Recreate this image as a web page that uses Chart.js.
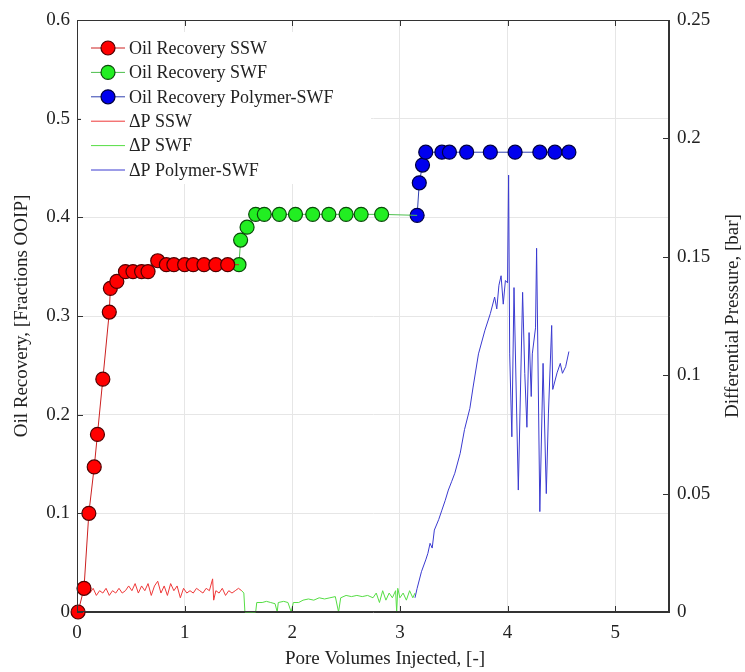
<!DOCTYPE html>
<html>
<head>
<meta charset="utf-8">
<script src="https://cdn.jsdelivr.net/npm/chart.js@4/dist/chart.umd.min.js"></script>
<style>
  html, body { margin: 0; padding: 0; background: #fff; }
  #wrap { width: 745px; height: 672px; }
</style>
</head>
<body>
<div id="wrap"><canvas id="myChart1"></canvas></div>
<script>
// oil recovery (fraction OOIP) vs pore volumes injected
const sswPV  = [0.01, 0.065, 0.11, 0.16, 0.19, 0.24, 0.30, 0.31, 0.37, 0.45, 0.52, 0.60, 0.66, 0.75, 0.83, 0.90, 1.00, 1.08, 1.18, 1.29, 1.40];
const sswRec = [0, 0.024, 0.100, 0.147, 0.180, 0.236, 0.304, 0.328, 0.335, 0.345, 0.345, 0.345, 0.345, 0.356, 0.352, 0.352, 0.352, 0.352, 0.352, 0.352, 0.352];
const swfPV  = [1.505, 1.52, 1.58, 1.66, 1.74, 1.88, 2.03, 2.19, 2.34, 2.50, 2.64, 2.83];
const swfRec = [0.352, 0.377, 0.390, 0.403, 0.403, 0.403, 0.403, 0.403, 0.403, 0.403, 0.403, 0.403];
const polPV  = [3.16, 3.18, 3.21, 3.24, 3.39, 3.46, 3.62, 3.84, 4.07, 4.30, 4.44, 4.57];
const polRec = [0.402, 0.435, 0.453, 0.466, 0.466, 0.466, 0.466, 0.466, 0.466, 0.466, 0.466, 0.466];

// differential pressure (bar)
const dpSswPV = [0.06, 0.09, 0.12, 0.15, 0.18, 0.21, 0.24, 0.27, 0.30, 0.33, 0.36, 0.39, 0.42, 0.45, 0.48, 0.51, 0.54, 0.57, 0.60, 0.63, 0.66, 0.69, 0.72, 0.75, 0.78, 0.81, 0.84, 0.87, 0.90, 0.93, 0.96, 0.99, 1.02, 1.05, 1.08, 1.11, 1.14, 1.17, 1.20, 1.23, 1.26, 1.27, 1.29, 1.32, 1.35, 1.38, 1.41, 1.44, 1.47, 1.50, 1.53];
const dpSsw   = [0.009, 0.011, 0.008, 0.010, 0.007, 0.009, 0.008, 0.010, 0.007, 0.009, 0.008, 0.010, 0.008, 0.009, 0.011, 0.009, 0.012, 0.008, 0.011, 0.009, 0.012, 0.007, 0.011, 0.013, 0.008, 0.011, 0.007, 0.012, 0.009, 0.011, 0.006, 0.010, 0.008, 0.009, 0.008, 0.010, 0.009, 0.008, 0.010, 0.009, 0.014, 0.005, 0.009, 0.008, 0.010, 0.007, 0.009, 0.008, 0.009, 0.010, 0.009];
const dpSwfPV = [1.53, 1.55, 1.56, 1.66, 1.67, 1.72, 1.76, 1.80, 1.84, 1.86, 1.87, 1.92, 1.96, 1.99, 2.01, 2.06, 2.10, 2.15, 2.20, 2.25, 2.30, 2.35, 2.40, 2.43, 2.45, 2.50, 2.55, 2.60, 2.65, 2.70, 2.75, 2.78, 2.81, 2.84, 2.87, 2.90, 2.93, 2.96, 2.97, 2.98, 3.00, 3.03, 3.06, 3.09, 3.12, 3.14];
const dpSwf   = [0.009, 0.008, 0, 0, 0.004, 0.004, 0.0045, 0.004, 0.0035, 0, 0.004, 0.0045, 0.004, 0, 0.004, 0.004, 0.005, 0.0055, 0.005, 0.006, 0.0055, 0.006, 0.0065, 0, 0.006, 0.007, 0.0065, 0.007, 0.0065, 0.007, 0.006, 0.008, 0.004, 0.009, 0.005, 0.008, 0.006, 0.009, 0, 0.010, 0.006, 0.008, 0.005, 0.009, 0.006, 0.008];
const dpPolPV = [3.14, 3.16, 3.20, 3.24, 3.26, 3.28, 3.30, 3.32, 3.36, 3.39, 3.42, 3.45, 3.48, 3.51, 3.56, 3.60, 3.65, 3.68, 3.73, 3.79, 3.84, 3.88, 3.90, 3.92, 3.94, 3.96, 3.98, 4.00, 4.01, 4.02, 4.04, 4.06, 4.10, 4.14, 4.16, 4.18, 4.20, 4.22, 4.23, 4.26, 4.27, 4.30, 4.33, 4.36, 4.38, 4.41, 4.42, 4.46, 4.49, 4.51, 4.54, 4.57];
const dpPol   = [0.006, 0.010, 0.017, 0.022, 0.0248, 0.029, 0.027, 0.0346, 0.039, 0.043, 0.047, 0.0515, 0.055, 0.0586, 0.067, 0.077, 0.086, 0.095, 0.109, 0.119, 0.126, 0.133, 0.128, 0.138, 0.142, 0.130, 0.140, 0.139, 0.1845, 0.109, 0.074, 0.137, 0.0515, 0.135, 0.1008, 0.078, 0.118, 0.091, 0.109, 0.120, 0.1536, 0.0424, 0.105, 0.050, 0.084, 0.121, 0.094, 0.101, 0.105, 0.1008, 0.1036, 0.110];

const xTicks = [0, 1, 2, 3, 4, 5];

const pts = (xs, ys) => xs.map((x, i) => ({ x: x, y: ys[i] }));
const FONT = "'Liberation Serif', 'DejaVu Serif', serif";

// recovery curves run on to the first point of the next stage
const recSsw = pts(sswPV, sswRec).concat([{ x: swfPV[0], y: swfRec[0] }]);
const recSwf = pts(swfPV, swfRec).concat([{ x: polPV[0], y: polRec[0] }]);
const recPol = pts(polPV, polRec);

const markerRadius = (ctx) =>
    ctx.dataset.bridge && ctx.dataIndex === ctx.dataset.data.length - 1 ? 0 : 7;

const datasets = [
    {
        label: "Oil Recovery SSW", data: recSsw, yAxisID: "y", bridge: true,
        borderColor: "#cc2020", backgroundColor: "#ff0000", pointBorderColor: "#500000",
        order: 1,
    },
    {
        label: "Oil Recovery SWF", data: recSwf, yAxisID: "y", bridge: true,
        borderColor: "#4cbf4c", backgroundColor: "#22ee22", pointBorderColor: "#0a4a0a",
        order: 2,
    },
    {
        label: "Oil Recovery Polymer-SWF", data: recPol, yAxisID: "y",
        borderColor: "#3040b0", backgroundColor: "#0000ee", pointBorderColor: "#000040",
        order: 3,
    },
    { label: "\u0394P SSW", data: pts(dpSswPV, dpSsw), yAxisID: "y2", borderColor: "#ee3838", order: 4 },
    { label: "\u0394P SWF", data: pts(dpSwfPV, dpSwf), yAxisID: "y2", borderColor: "#55dd44", order: 5 },
    { label: "\u0394P Polymer-SWF", data: pts(dpPolPV, dpPol), yAxisID: "y2", borderColor: "#3a3ad0", order: 6 },
];

datasets.forEach((d, i) => {
    d.borderWidth = 1;
    d.clip = false;
    if (i < 3) {
        d.pointRadius = markerRadius;
        d.pointHoverRadius = markerRadius;
        d.pointBorderWidth = 1.2;
        d.marker = true;
    } else {
        d.pointRadius = 0;
        d.marker = false;
    }
});

const frame = {
    id: "frame",
    afterDraw(chart) {
        const { ctx, chartArea: a, scales } = chart;
        ctx.save();
        // box and inward ticks
        ctx.strokeStyle = "#333";
        ctx.lineWidth = 1;
        ctx.strokeRect(a.left + 0.5, a.top + 0.5, a.right - a.left - 1, a.bottom - a.top - 1);
        ctx.beginPath();
        xTicks.forEach((v) => {
            const px = Math.round(scales.x.getPixelForValue(v)) + 0.5;
            ctx.moveTo(px, a.bottom); ctx.lineTo(px, a.bottom - 6);
            ctx.moveTo(px, a.top); ctx.lineTo(px, a.top + 6);
        });
        scales.y.ticks.forEach((t) => {
            const py = Math.round(scales.y.getPixelForValue(t.value)) + 0.5;
            ctx.moveTo(a.left, py); ctx.lineTo(a.left + 6, py);
        });
        scales.y2.ticks.forEach((t) => {
            const py = Math.round(scales.y2.getPixelForValue(t.value)) + 0.5;
            ctx.moveTo(a.right, py); ctx.lineTo(a.right - 6, py);
        });
        ctx.stroke();

        // axis titles
        ctx.fillStyle = "#222";
        ctx.font = "19px " + FONT;
        ctx.textAlign = "center";
        ctx.textBaseline = "middle";
        const cy = (a.top + a.bottom) / 2;
        ctx.fillText("Pore Volumes Injected, [-]", (a.left + a.right) / 2 + 12, 659);
        ctx.save();
        ctx.translate(22, cy);
        ctx.rotate(-Math.PI / 2);
        ctx.fillText("Oil Recovery, [Fractions OOIP]", 0, 0);
        ctx.restore();
        ctx.save();
        ctx.translate(733, cy);
        ctx.rotate(-Math.PI / 2);
        ctx.fillText("Differential Pressure, [bar]", 0, 0);
        ctx.restore();

        // legend
        const lx = a.left + 4, ly = a.top + 12;
        ctx.fillStyle = "#fff";
        ctx.fillRect(lx, ly, 290, 152);
        ctx.font = "18px " + FONT;
        ctx.textAlign = "left";
        chart.data.datasets.forEach((d, i) => {
            const y = ly + 16 + i * 24.4;
            ctx.strokeStyle = d.borderColor;
            ctx.lineWidth = 1;
            ctx.beginPath();
            ctx.moveTo(lx + 10, y); ctx.lineTo(lx + 44, y);
            ctx.stroke();
            if (d.marker) {
                ctx.beginPath();
                ctx.arc(lx + 27, y, 7, 0, Math.PI * 2);
                ctx.fillStyle = d.backgroundColor;
                ctx.fill();
                ctx.strokeStyle = d.pointBorderColor;
                ctx.lineWidth = 1.2;
                ctx.stroke();
            }
            ctx.fillStyle = "#222";
            ctx.fillText(d.label, lx + 48, y + 1);
        });
        ctx.restore();
    },
};

const fmt = (v) => String(Number(v.toFixed(2)));

const ctx = document.getElementById("myChart1").getContext("2d");
const myChart = new Chart(ctx, {
    type: "line",
    data: { datasets: datasets },
    options: {
        responsive: true,
        maintainAspectRatio: false,
        animation: false,
        layout: { padding: { top: 20, left: 0, right: 0, bottom: 0 } },
        plugins: {
            legend: { display: false },
            tooltip: { enabled: false },
        },
        scales: {
            x: {
                type: "linear",
                min: 0,
                max: 5.5,
                ticks: {
                    stepSize: 1,
                    padding: 10,
                    color: "#222",
                    font: { family: FONT, size: 19 },
                    maxRotation: 0,
                    callback: (v) => (Number.isInteger(v) ? v : ""),
                },
                grid: { color: "#e6e6e6", drawTicks: false },
                border: { color: "#333" },
                afterFit: (s) => { s.height = 60; },
            },
            y: {
                position: "left",
                min: 0,
                max: 0.6,
                ticks: {
                    stepSize: 0.1,
                    padding: 7,
                    color: "#222",
                    font: { family: FONT, size: 19 },
                    callback: fmt,
                },
                grid: { color: "#e6e6e6", drawTicks: false },
                border: { color: "#333" },
                afterFit: (s) => { s.width = 77; },
            },
            y2: {
                position: "right",
                min: 0,
                max: 0.25,
                ticks: {
                    stepSize: 0.05,
                    padding: 8,
                    color: "#222",
                    font: { family: FONT, size: 19 },
                    callback: fmt,
                },
                grid: { display: false, drawTicks: false },
                border: { color: "#333" },
                afterFit: (s) => { s.width = 76; },
            },
        },
    },
    plugins: [frame],
});
</script>
</body>
</html>
